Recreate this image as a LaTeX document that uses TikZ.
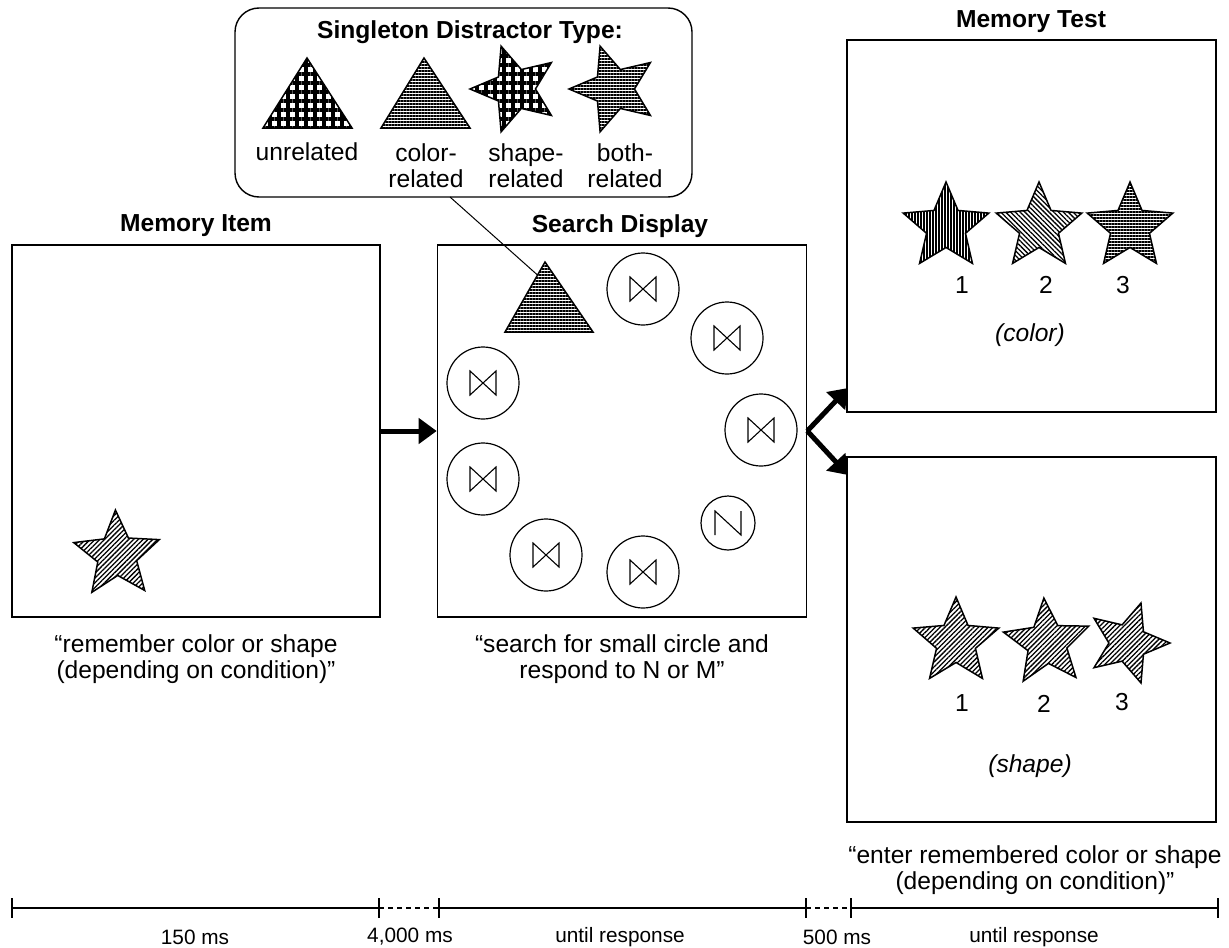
\documentclass[tikz,border=0pt]{standalone}
\usepackage{fontspec}
\setmainfont{Liberation Sans}
\usetikzlibrary{shapes.geometric, patterns.meta, arrows.meta, calc}

\begin{document}
\begin{tikzpicture}[x=0.5pt, y=-0.5pt,
  every node/.style={font=\fontsize{12.3}{13}\selectfont},
  panel/.style={draw, line width=0.8pt, minimum width=184.5pt, minimum height=186pt, inner sep=0pt},
  title/.style={font=\fontsize{12.3}{13}\selectfont\bfseries},
  caption/.style={align=center},
  ring/.style={circle, draw, line width=0.6pt, minimum size=36pt, inner sep=0pt},
  smallring/.style={ring, minimum size=27pt},
  starshape/.style={star, star points=5, star point ratio=2.2, minimum size=45pt, inner sep=0pt, draw, line width=0.75pt},
  fillNE/.style={pattern={Lines[angle=45,distance=1.7pt,line width=0.65pt]}},
  fillNW/.style={pattern={Lines[angle=-45,distance=1.7pt,line width=0.65pt]}},
  fillV/.style={pattern={Lines[angle=90,distance=1.5pt,line width=0.75pt]}},
  fillH/.style={pattern={Lines[angle=0,distance=1.5pt,line width=0.85pt]}},
  fillGrid/.style={pattern={Hatch[angle=0,distance=4.5pt,line width=1.7pt]}},
  shapeline/.style={line width=0.75pt},
  bigarrow/.style={line width=2.5pt, -{Triangle[length=9pt,width=12.5pt]}},
  glyph/.style={line width=0.55pt},
  tick/.style={line width=0.6pt},
  timelabel/.style={font=\fontsize{10.4}{12}\selectfont},
  bowtie/.pic={\draw[glyph] (-13,-12) -- (13,12) -- (13,-12) -- (-13,12) -- cycle;},
  nletter/.pic={\draw[glyph] (-13,12) -- (-13,-12) -- (13,12) -- (13,-12);},
]
\useasboundingbox (0,0) rectangle (1229,947);

% ---------- singleton distractor legend ----------
\node[draw, line width=0.7pt, rounded corners=12pt, minimum width=228.5pt, minimum height=94.5pt, inner sep=0pt] (legend) at (463.5,102.5) {};
\node[title] (legendtitle) at (470,32) {Singleton Distractor Type:};
\draw[fillGrid, shapeline] (307,58) -- (352,128) -- (263,128) -- cycle;
\draw[fillH, shapeline] (424,58) -- (470,128) -- (381,128) -- cycle;
\node[starshape, fillGrid, shape border rotate=90] (starshp) at (515,89) {};
\node[starshape, fillH, shape border rotate=90] (starboth) at (614,89) {};
\node (lblunrel) at (307,152) {unrelated};
\node[caption] (lblcolor) at (426,166) {color-\\related};
\node[caption] (lblshape) at (526,166) {shape-\\related};
\node[caption] (lblboth) at (625,166) {both-\\related};

% ---------- memory item ----------
\node[title] (itemtitle) at (196,226) {Memory Item};
\node[panel, minimum width=184pt] (memitem) at (196,431) {};
\node[starshape, fillNE, shape border rotate=2] (itemstar) at (117,555) {};
\node[caption] (itemcap) at (196,659) {“remember color or shape\\(depending on condition)”};

% ---------- search display ----------
\node[title] (searchtitle) at (620,226) {Search Display};
\node[panel] (search) at (622,431) {};
\draw[fillH, shapeline] (545,262) -- (593,332) -- (505,332) -- cycle;
\coordinate (singleton) at (537.5,275);
\coordinate (legendfoot) at (450,197);
\draw[line width=0.5pt] (legendfoot) -- (singleton);
\node[ring] (c1) at (643,289) {};
\node[ring] (c2) at (727,338) {};
\node[ring] (c3) at (761,430) {};
\node[smallring] (c4) at (728,523) {};
\node[ring] (c5) at (643,572) {};
\node[ring] (c6) at (546,555) {};
\node[ring] (c7) at (483,479) {};
\node[ring] (c8) at (483,383) {};
\foreach \c in {c1,c2,c3,c5,c6,c7,c8} \pic at (\c) {bowtie};
\pic at (c4) {nletter};
\node[caption] (searchcap) at (622,659) {“search for small circle and\\respond to N or M”};

% ---------- memory test ----------
\node[title] (testtitle) at (1031,22) {Memory Test};
\node[panel] (testcolor) at (1031.5,226) {};
\node[starshape, fillV] (tc1) at (946,227) {};
\node[starshape, fillNW] (tc2) at (1039,227) {};
\node[starshape, fillH] (tc3) at (1130,227) {};
\node (tn1) at (962,285) {1};
\node (tn2) at (1046,285) {2};
\node (tn3) at (1123,285) {3};
\node[font=\fontsize{12.3}{13}\selectfont\itshape] (tclabel) at (1030,335) {(color)};

\node[panel, minimum height=182.5pt] (testshape) at (1031.5,639.5) {};
\node[starshape, fillNE] (ts1) at (956,642) {};
\node[starshape, fillNE, shape border rotate=4] (ts2) at (1047,643) {};
\node[starshape, fillNE, minimum size=42pt, shape border rotate=-90] (ts3) at (1128,643) {};
\node (sn1) at (962,703) {1};
\node (sn2) at (1044,704) {2};
\node (sn3) at (1122,702) {3};
\node[font=\fontsize{12.3}{13}\selectfont\itshape] (tslabel) at (1030,766) {(shape)};
\node[caption] (testcap) at (1035,870) {“enter remembered color or shape\\(depending on condition)”};

% ---------- transitions ----------
\coordinate (tipcolor) at (848,388);
\coordinate (tipshape) at (848,475);
\draw[bigarrow] (memitem.east) -- (search.west);
\draw[bigarrow] (search.east) -- (tipcolor);
\draw[bigarrow] (search.east) -- (tipshape);

% ---------- time line ----------
\coordinate (t0) at (12,908);
\coordinate (t1) at (379,908);
\coordinate (t2) at (439,908);
\coordinate (t3) at (806,908);
\coordinate (t4) at (851,908);
\coordinate (t5) at (1218,908);
\draw[tick] (t0) -- (t1);
\draw[tick, dash pattern=on 2.5pt off 2pt] (t1) -- (t2);
\draw[tick] (t2) -- (t3);
\draw[tick, dash pattern=on 2.5pt off 2pt] (t3) -- (t4);
\draw[tick] (t4) -- (t5);
\foreach \p in {t0,t1,t2,t3,t4,t5} \draw[tick] ($(\p)+(0,-10)$) -- ($(\p)+(0,10)$);
\node[timelabel] (d1) at (195,937) {150 ms};
\node[timelabel] (d2) at (410,937) {4,000 ms};
\node[timelabel] (d3) at (620,937) {until response};
\node[timelabel] (d4) at (837,937) {500 ms};
\node[timelabel] (d5) at (1034,937) {until response};
\end{tikzpicture}
\end{document}
